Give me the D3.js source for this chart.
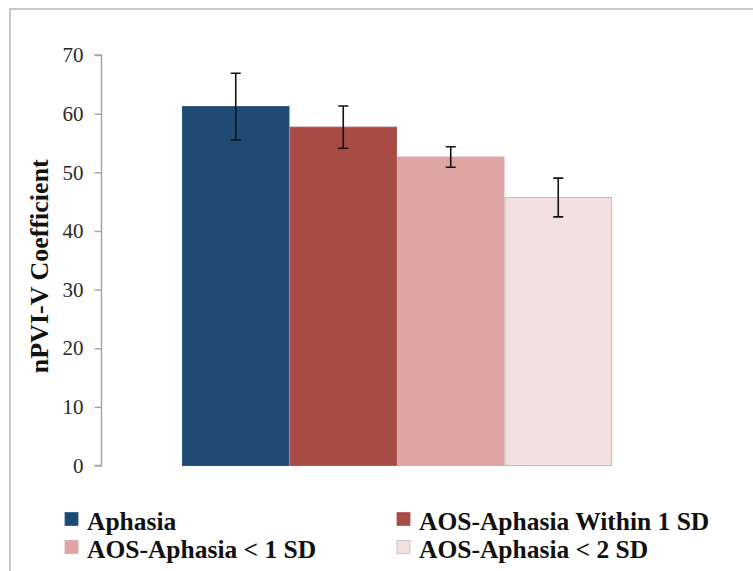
<!DOCTYPE html>
<html>
<head>
<meta charset="utf-8">
<script src="https://cdn.jsdelivr.net/npm/d3@7"></script>
<style>
  html, body { margin: 0; padding: 0; background: #fff; }
  svg { display: block; }
  text { font-family: "Liberation Serif", "Times New Roman", serif; }
</style>
</head>
<body>
<svg id="chart" width="753" height="571"></svg>
<script>
// Group means and standard errors of the nPVI-V coefficient
const groups = ["Aphasia", "AOS-Aphasia Within 1 SD", "AOS-Aphasia < 1 SD", "AOS-Aphasia < 2 SD"];
const means = [61.2, 57.7, 52.6, 45.7];
const errors = [5.7, 3.6, 1.75, 3.3];
const fills = ["#1f4a73", "#a84b44", "#dea5a2", "#f3e1e0"];
const edges = ["#2a5580", "#b05a54", "#d6aaa8", "#c9bbbb"];
const yTicks = [0, 10, 20, 30, 40, 50, 60, 70];

const svg = d3.select("#chart");
const serif = "Liberation Serif";

// Outer frame (continues past the right and bottom edges)
svg.append("path")
  .attr("d", "M10,580 L10,9 L760,9")
  .attr("fill", "none")
  .attr("stroke", "#c8c8c8")
  .attr("stroke-width", 2);

const plot = { left: 101.5, top: 55, bottom: 465.5 };

const y = d3.scaleLinear().domain([0, 70]).range([plot.bottom, plot.top]);
const x = d3.scaleBand().domain(groups).range([182, 612]).padding(0);

// Y axis
const yAxis = d3.axisLeft(y).tickValues(yTicks).tickSize(7).tickPadding(11);
const gy = svg.append("g")
  .attr("transform", `translate(${plot.left},0)`)
  .call(yAxis)
  .attr("font-family", serif)
  .attr("font-size", 21);
gy.select(".domain").attr("stroke", "#a6a6a6").attr("stroke-width", 1.5)
  .attr("d", `M-7,${y(70)}H0V${y(0)}H-7`);
gy.selectAll(".tick line").attr("stroke", "#a6a6a6").attr("stroke-width", 1.5);
gy.selectAll(".tick text").attr("fill", "#2a2a2a");

// Y axis title
svg.append("text")
  .attr("transform", `translate(48,${(plot.top + plot.bottom) / 2 + 6}) rotate(-90)`)
  .attr("text-anchor", "middle")
  .attr("font-family", serif)
  .attr("font-weight", "bold")
  .attr("font-size", 26)
  .attr("fill", "#111")
  .text("nPVI-V Coefficient");

// Bars
const data = groups.map((g, i) => ({ g, m: means[i], e: errors[i], fill: fills[i], edge: edges[i] }));
svg.append("g").selectAll("rect")
  .data(data)
  .join("rect")
  .attr("x", d => x(d.g) + 0.5)
  .attr("y", d => y(d.m))
  .attr("width", x.bandwidth() - 1)
  .attr("height", d => y(0) - y(d.m))
  .attr("fill", d => d.fill)
  .attr("stroke", d => d.edge)
  .attr("stroke-width", 1);

// Error bars
const cap = 5;
const eb = svg.append("g").attr("stroke", "#111").attr("stroke-width", 1.6).attr("fill", "none");
eb.selectAll("path")
  .data(data)
  .join("path")
  .attr("d", d => {
    const cx = x(d.g) + x.bandwidth() / 2;
    const t = y(d.m + d.e), b = y(d.m - d.e);
    return `M${cx},${t}V${b}M${cx - cap},${t}H${cx + cap}M${cx - cap},${b}H${cx + cap}`;
  });

// Legend: two columns, two rows
const legendPos = [[65, 512.5], [397, 512.5], [65, 540.5], [397, 540.5]];
const lg = svg.append("g").selectAll("g")
  .data(data)
  .join("g")
  .attr("transform", (d, i) => `translate(${legendPos[i][0]},${legendPos[i][1]})`);
lg.append("rect")
  .attr("width", 13).attr("height", 13)
  .attr("fill", d => d.fill)
  .attr("stroke", d => d.edge)
  .attr("stroke-width", 0.8);
lg.append("text")
  .attr("x", 22)
  .attr("y", 17.5)
  .attr("font-family", serif)
  .attr("font-weight", "bold")
  .attr("font-size", 25.5)
  .attr("fill", "#111")
  .text(d => d.g);
</script>
</body>
</html>
